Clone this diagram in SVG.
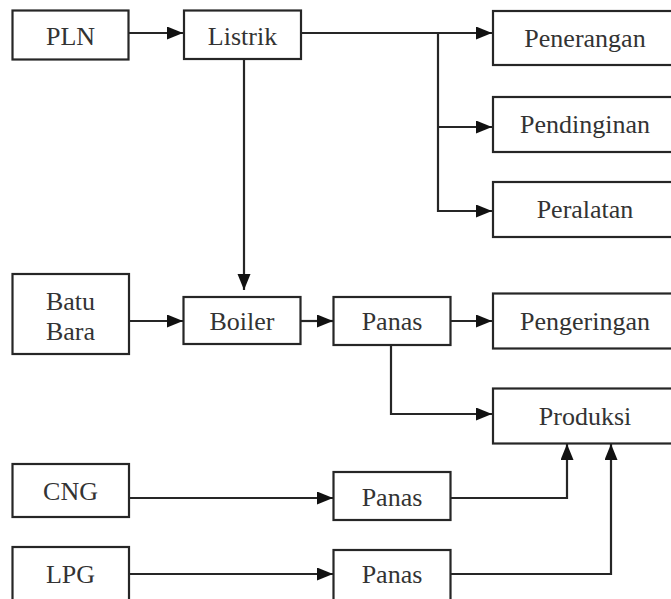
<svg xmlns="http://www.w3.org/2000/svg" width="671" height="599" viewBox="0 0 671 599">
<style>
.box{fill:#fff;stroke:#262626;stroke-width:2.2}
.lbl{font-family:'Liberation Serif','DejaVu Serif',serif;font-size:26px;fill:#333;text-anchor:middle}
.con path{fill:none;stroke:#262626;stroke-width:2.2}
</style>
<defs>
<marker id="ah" markerUnits="userSpaceOnUse" markerWidth="17" markerHeight="14" refX="16" refY="6.5" orient="auto">
<path d="M0,0 L16,6.5 L0,13 z" fill="#111"/>
</marker>
</defs>
<rect width="671" height="599" fill="#fff"/>
<g id="n-pln"><rect class="box" x="12.5" y="10.5" width="116" height="49"/><text class="lbl" x="70.5" y="44.5">PLN</text></g>
<g id="n-listrik"><rect class="box" x="184" y="10.5" width="117" height="48.5"/><text class="lbl" x="242.5" y="44.5">Listrik</text></g>
<g id="n-penerangan"><rect class="box" x="493" y="11" width="190" height="54"/><text class="lbl" x="585" y="47">Penerangan</text></g>
<g id="n-pendinginan"><rect class="box" x="493" y="97" width="190" height="55"/><text class="lbl" x="585" y="133">Pendinginan</text></g>
<g id="n-peralatan"><rect class="box" x="493" y="182" width="190" height="55"/><text class="lbl" x="585" y="218">Peralatan</text></g>
<g id="n-batubara"><rect class="box" x="12.5" y="274" width="116.5" height="80"/><text class="lbl" x="70.5" y="310">Batu</text><text class="lbl" x="70.5" y="340">Bara</text></g>
<g id="n-boiler"><rect class="box" x="183.5" y="297" width="117" height="47"/><text class="lbl" x="242" y="330">Boiler</text></g>
<g id="n-panas1"><rect class="box" x="333.5" y="297" width="117" height="48"/><text class="lbl" x="392" y="330">Panas</text></g>
<g id="n-pengeringan"><rect class="box" x="493" y="293.5" width="190" height="55"/><text class="lbl" x="585" y="330">Pengeringan</text></g>
<g id="n-produksi"><rect class="box" x="493" y="388.5" width="190" height="55"/><text class="lbl" x="585" y="425">Produksi</text></g>
<g id="n-cng"><rect class="box" x="12.5" y="464" width="116.5" height="53"/><text class="lbl" x="70.5" y="500">CNG</text></g>
<g id="n-panas2"><rect class="box" x="333.5" y="472" width="117" height="48"/><text class="lbl" x="392" y="506">Panas</text></g>
<g id="n-lpg"><rect class="box" x="12.5" y="547" width="116.5" height="60"/><text class="lbl" x="70.5" y="583">LPG</text></g>
<g id="n-panas3"><rect class="box" x="333.5" y="550" width="117" height="60"/><text class="lbl" x="392" y="583">Panas</text></g>
<g id="connectors" class="con">
<path d="M129,33 H183" marker-end="url(#ah)"/>
<path d="M301,33 H492" marker-end="url(#ah)"/>
<path d="M438,33 V211 H492" marker-end="url(#ah)"/>
<path d="M438,127 H492" marker-end="url(#ah)"/>
<path d="M244,59 V290" marker-end="url(#ah)"/>
<path d="M129,321 H183" marker-end="url(#ah)"/>
<path d="M301,321 H333" marker-end="url(#ah)"/>
<path d="M451,321 H492" marker-end="url(#ah)"/>
<path d="M391,345 V414 H492" marker-end="url(#ah)"/>
<path d="M129,498 H333" marker-end="url(#ah)"/>
<path d="M451,498 H567 V444" marker-end="url(#ah)"/>
<path d="M129,574 H333" marker-end="url(#ah)"/>
<path d="M451,574 H611 V444" marker-end="url(#ah)"/>
</g>
</svg>
